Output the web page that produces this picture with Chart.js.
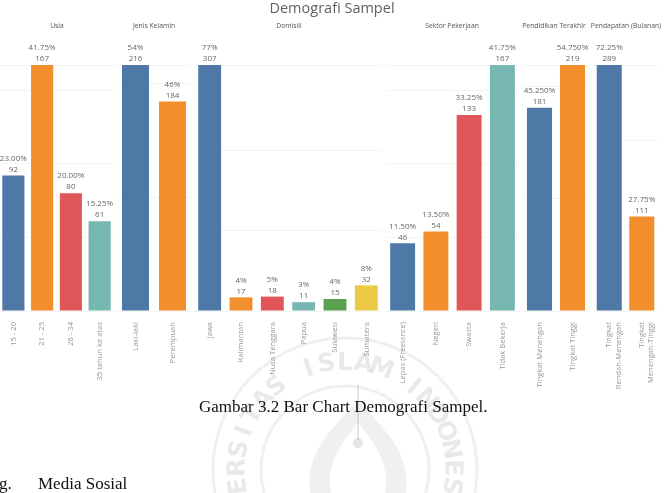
<!DOCTYPE html>
<html>
<head>
<meta charset="utf-8">
<script src="https://cdn.jsdelivr.net/npm/chart.js@4/dist/chart.umd.min.js"></script>
<style>
html,body{margin:0;padding:0;background:#fff;}
#page{position:relative;width:666px;height:493px;overflow:hidden;background:#fff;font-family:"Open Sans",sans-serif;}
#wm{position:absolute;left:0;top:0;z-index:0;}
.panel{position:absolute;top:0;height:400px;z-index:1;}
.hdr{position:absolute;top:21px;font-size:6.8px;color:#555;white-space:nowrap;transform:translateX(-50%);z-index:2;}
#title{position:absolute;left:332px;top:-2px;transform:translateX(-50%);font-size:14.5px;color:#5f5f5f;white-space:nowrap;z-index:2;}
.doc{position:absolute;font-family:"Liberation Serif",serif;font-size:17px;color:#111;white-space:nowrap;z-index:2;}
</style>
</head>
<body>
<div id="page">
  <canvas id="wm" width="666" height="493"></canvas>
  <div id="title">Demografi Sampel</div>
  <div class="doc" style="left:199px;top:397px;">Gambar 3.2 Bar Chart Demografi Sampel.</div>
  <div class="doc" style="left:-1px;top:474px;">g.</div>
  <div class="doc" style="left:38px;top:474px;">Media Sosial</div>
</div>
<script>
// ---- data ----
const panelTitles = ["Usia","Jenis Kelamin","Domisili","Sektor Pekerjaan","Pendidikan Terakhir","Pendapatan (Bulanan)"];

const usiaLabels = ["15 - 20","21 - 25","26 - 34","35 tahun ke atas"];
const usiaCounts = [92,167,80,61];
const usiaPct = ["23.00%","41.75%","20.00%","15.25%"];

const kelaminLabels = ["Laki-laki","Perempuan"];
const kelaminCounts = [216,184];
const kelaminPct = ["54%","46%"];

const domisiliLabels = ["Jawa","Kalimantan","Nusa Tenggara","Papua","Sulawesi","Sumatera"];
const domisiliCounts = [307,17,18,11,15,32];
const domisiliPct = ["77%","4%","5%","3%","4%","8%"];

const sektorLabels = ["Lepas (Freelance)","Negeri","Swasta","Tidak Bekerja"];
const sektorCounts = [46,54,133,167];
const sektorPct = ["11.50%","13.50%","33.25%","41.75%"];

const pendidikanLabels = ["Tingkat Menengah","Tingkat Tinggi"];
const pendidikanCounts = [181,219];
const pendidikanPct = ["45.250%","54.750%"];

const pendapatanLabels = [["Tingkat","Rendah-Menengah"],["Tingkat","Menengah-Tinggi"]];
const pendapatanCounts = [289,111];
const pendapatanPct = ["72.25%","27.75%"];

// ---- styling / layout ----
const palette = ["#4e79a7","#f28e2b","#e15759","#76b7b2","#59a14f","#edc948"];
const panels = [
  {labels:usiaLabels, counts:usiaCounts, pct:usiaPct, left:-1, width:115, bp:0.77, hx:57},
  {labels:kelaminLabels, counts:kelaminCounts, pct:kelaminPct, left:117, width:74, bp:0.73, hx:154},
  {labels:domisiliLabels, counts:domisiliCounts, pct:domisiliPct, left:194, width:188, bp:0.73, hx:289},
  {labels:sektorLabels, counts:sektorCounts, pct:sektorPct, left:386, width:133, bp:0.75, hx:452},
  {labels:pendidikanLabels, counts:pendidikanCounts, pct:pendidikanPct, left:523, width:66, bp:0.76, hx:554},
  {labels:pendapatanLabels, counts:pendapatanCounts, pct:pendapatanPct, left:593, width:70, bp:0.77, hx:626}
];

// ---- watermark ----
(function(){
  const c = document.getElementById('wm').getContext('2d');
  const cx = 345, cy = 470;
  c.strokeStyle = 'rgba(0,0,0,0.06)';
  c.lineWidth = 3;
  c.beginPath(); c.arc(cx, cy, 132, 0, Math.PI*2); c.stroke();
  c.beginPath(); c.arc(cx, cy, 84, 0, Math.PI*2); c.stroke();
  const txt = "UNIVERSITAS ISLAM INDONESIA";
  c.fillStyle = 'rgba(0,0,0,0.085)';
  c.font = 'bold 25px "DejaVu Sans"';
  c.textAlign = 'center'; c.textBaseline = 'middle';
  const step = 0.172;
  for (let i = 0; i < txt.length; i++) {
    const a = -Math.PI/2 + (i - 14) * step;
    c.save();
    c.translate(cx + 107*Math.cos(a), cy + 107*Math.sin(a));
    c.rotate(a + Math.PI/2);
    c.fillText(txt[i], 0, 0);
    c.restore();
  }
  // central emblem
  c.fillStyle = 'rgba(0,0,0,0.06)';
  c.beginPath();
  c.moveTo(358, 400);
  c.bezierCurveTo(330, 432, 305, 452, 310, 493);
  c.lineTo(406, 493);
  c.bezierCurveTo(411, 452, 386, 432, 358, 400);
  c.fill();
  c.fillStyle = '#fff';
  c.beginPath();
  c.moveTo(358, 422);
  c.bezierCurveTo(340, 447, 326, 462, 331, 493);
  c.lineTo(385, 493);
  c.bezierCurveTo(390, 462, 376, 447, 358, 422);
  c.fill();
  c.strokeStyle = 'rgba(0,0,0,0.1)';
  c.lineWidth = 2;
  c.beginPath(); c.moveTo(358, 385); c.lineTo(358, 440); c.stroke();
  c.fillStyle = 'rgba(0,0,0,0.1)';
  c.beginPath(); c.arc(358, 443, 5, 0, Math.PI*2); c.fill();
})();

// ---- value labels ----
const valueLabels = {
  id: 'valueLabels',
  afterDatasetsDraw(chart) {
    const ctx = chart.ctx;
    const ds = chart.data.datasets[0];
    const meta = chart.getDatasetMeta(0);
    ctx.save();
    ctx.fillStyle = '#666';
    ctx.font = '8px "Open Sans"';
    ctx.textAlign = 'center';
    ctx.textBaseline = 'middle';
    meta.data.forEach((bar, i) => {
      ctx.fillText(ds.pct[i], bar.x, bar.y - 17);
      ctx.fillText(String(ds.data[i]), bar.x, bar.y - 6);
    });
    ctx.restore();
  }
};

const page = document.getElementById('page');
panels.forEach((p, k) => {
  const div = document.createElement('div');
  div.className = 'panel';
  div.style.left = p.left + 'px';
  div.style.width = p.width + 'px';
  const cv = document.createElement('canvas');
  cv.width = p.width; cv.height = 400;
  div.appendChild(cv);
  page.appendChild(div);

  const h = document.createElement('div');
  h.className = 'hdr';
  h.style.left = p.hx + 'px';
  h.textContent = panelTitles[k];
  page.appendChild(h);

  new Chart(cv, {
    type: 'bar',
    data: {
      labels: p.labels,
      datasets: [{
        data: p.counts,
        pct: p.pct,
        backgroundColor: palette.slice(0, p.counts.length),
        barPercentage: p.bp,
        categoryPercentage: 1
      }]
    },
    options: {
      responsive: false,
      animation: false,
      devicePixelRatio: 1,
      layout: {padding: {top: 65, left: 0, right: 0, bottom: 0}},
      plugins: {legend: {display: false}, tooltip: {enabled: false}},
      scales: {
        x: {
          grid: {display: false},
          border: {display: false},
          ticks: {
            autoSkip: false, maxRotation: 90, minRotation: 90, padding: 3,
            color: '#979797', font: {family: 'Open Sans', size: 7.6}
          },
          afterFit(s) { s.height = 89; }
        },
        y: {
          min: 0, max: Math.max(...p.counts),
          ticks: {display: false, maxTicksLimit: 5},
          grid: {color: '#f4f4f4', drawTicks: false},
          border: {display: false},
          afterFit(s) { s.width = 0; }
        }
      }
    },
    plugins: [valueLabels]
  });
});
</script>
</body>
</html>
